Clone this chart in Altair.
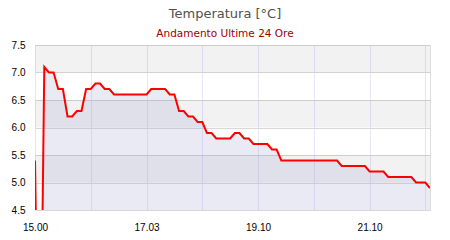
import altair as alt
import pandas as pd

# temperature readings, one per sample (category index along x)
temps = [
    5.4, 0.0, 7.1, 7.0, 7.0, 6.7, 6.7, 6.2, 6.2, 6.3, 6.3, 6.7, 6.7, 6.8, 6.8, 6.7, 6.7,
    6.6, 6.6, 6.6, 6.6, 6.6, 6.6, 6.6, 6.6,
    6.7, 6.7, 6.7, 6.7,
    6.6, 6.6, 6.3, 6.3, 6.2, 6.2, 6.1, 6.1, 5.9, 5.9,
    5.8, 5.8, 5.8, 5.8, 5.9, 5.9, 5.8, 5.8,
    5.7, 5.7, 5.7, 5.7, 5.6, 5.6,
    5.4, 5.4, 5.4, 5.4, 5.4, 5.4, 5.4, 5.4, 5.4, 5.4, 5.4, 5.4, 5.4,
    5.3, 5.3, 5.3, 5.3, 5.3, 5.3,
    5.2, 5.2, 5.2, 5.2,
    5.1, 5.1, 5.1, 5.1, 5.1, 5.1,
    5.0, 5.0, 5.0,
    4.9,
]
sample_index = list(range(len(temps)))

grid_positions = [0, 12, 24, 36, 48, 60, 72, 84]
tick_positions = [0, 24, 48, 72]
tick_labels = ["15.00", "17.03", "19.10", "21.10"]

y_ticks = [4.5, 5.0, 5.5, 6.0, 6.5, 7.0, 7.5]
band_lo = [5.0, 6.0, 7.0]
band_hi = [5.5, 6.5, 7.5]

df = pd.DataFrame({"i": sample_index, "t": temps})
bands = pd.DataFrame({"lo": band_lo, "hi": band_hi})

label_expr = " : ".join(
    f"datum.value == {p} ? '{l}'" for p, l in zip(tick_positions, tick_labels)
) + " : ''"

xscale = alt.Scale(domain=[0, len(temps) - 1], nice=False, zero=False)
yscale = alt.Scale(domain=[y_ticks[0], y_ticks[-1]], nice=False, zero=False)

FONT = "DejaVu Sans"

xaxis = alt.Axis(
    values=grid_positions,
    labelExpr=label_expr,
    grid=True,
    gridColor="#e6e6fa",
    ticks=False,
    domain=False,
    labelPadding=12,
    labelFlush=False,
    title=None,
)
yaxis = alt.Axis(
    values=y_ticks,
    format=".1f",
    grid=True,
    gridColor="#d8d8d8",
    ticks=False,
    domain=False,
    labelPadding=10,
    title=None,
)

band_layer = alt.Chart(bands).mark_rect(color="#000000", opacity=0.05).encode(
    x=alt.value(0),
    x2=alt.value("width"),
    y=alt.Y("lo:Q", scale=yscale, axis=yaxis),
    y2="hi:Q",
)

area_layer = alt.Chart(df).mark_area(color="#a4a4cf", opacity=0.23, clip=True).encode(
    x=alt.X("i:Q", scale=xscale, axis=xaxis),
    y=alt.Y("t:Q", scale=yscale, axis=yaxis),
    y2=alt.datum(y_ticks[0]),
)

line_layer = alt.Chart(df).mark_line(color="#ff0000", strokeWidth=2, clip=True).encode(
    x=alt.X("i:Q", scale=xscale, axis=xaxis),
    y=alt.Y("t:Q", scale=yscale, axis=yaxis),
)

chart = (
    alt.layer(band_layer, area_layer, line_layer)
    .properties(
        width=395,
        height=165,
        autosize=alt.AutoSizeParams(type="none"),
        padding={"left": 35, "top": 45, "right": 20, "bottom": 30},
        title=alt.TitleParams(
            text="Temperatura [°C]",
            subtitle="Andamento Ultime 24 Ore",
            anchor="middle",
            dx=-7.5,
            font=FONT,
            fontSize=13,
            fontWeight="normal",
            color="#505050",
            subtitleFont=FONT,
            subtitleFontSize=10.5,
            subtitleColor="#a00000",
            subtitlePadding=8,
            offset=1,
        ),
    )
    .configure_view(stroke="#d6d6d6", strokeWidth=1)
    .configure_axis(labelFont=FONT, labelFontSize=10, labelColor="#555555")
    .configure(background="white")
)

chart.save("out.html", embed_options={"renderer": "svg", "actions": False})
